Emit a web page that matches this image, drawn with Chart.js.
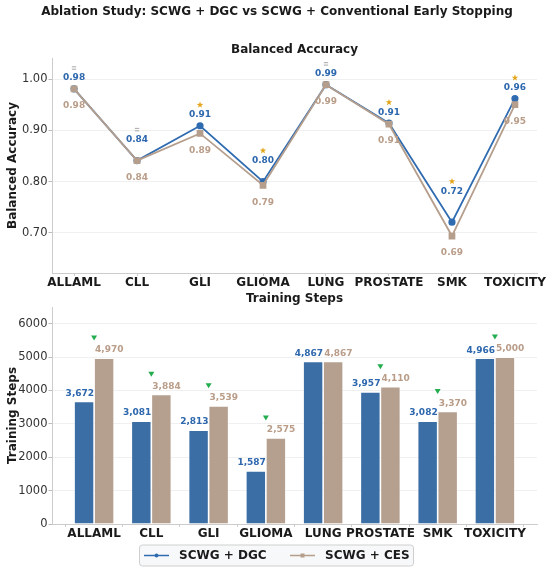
<!DOCTYPE html>
<html lang="en">
<head>
  <meta charset="UTF-8" />
  <title>Ablation Study: SCWG + DGC vs SCWG + CES</title>
  <script src="https://cdn.jsdelivr.net/npm/chart.js"></script>
  <style>
    body {
      margin: 0;
      background: #ffffff;
    }

    #figure {
      position: relative;
      width: 550px;
      height: 571px;
      background: #ffffff;
    }

    #accChart, #stepsChart {
      position: absolute;
      left: 0;
    }

    #accChart { top: 0; }
    #stepsChart { top: 290px; }
  </style>
</head>
<body>

  <div id="figure">
    <canvas id="accChart" width="550" height="290"></canvas>
    <canvas id="stepsChart" width="550" height="281"></canvas>
  </div>

  <script>
    // data
    const categories = ['ALLAML', 'CLL', 'GLI', 'GLIOMA', 'LUNG', 'PROSTATE', 'SMK', 'TOXICITY'];
    const accDGC = [0.981, 0.841, 0.909, 0.800, 0.989, 0.914, 0.721, 0.962];
    const accCES = [0.981, 0.841, 0.894, 0.793, 0.989, 0.912, 0.694, 0.950];
    const accMarks = ['=', '=', '*', '*', '=', '*', '*', '*'];
    const accTicks = [0.7, 0.8, 0.9, 1.0];
    const stepsDGC = [3672, 3081, 2813, 1587, 4867, 3957, 3082, 4966];
    const stepsCES = [4970, 3884, 3539, 2575, 4867, 4110, 3370, 5000];
    const stepMarks = ['v', 'v', 'v', 'v', '', 'v', 'v', 'v'];
    const stepTicks = [0, 1000, 2000, 3000, 4000, 5000, 6000];
    const seriesNames = ['SCWG + DGC', 'SCWG + CES'];

    const FONT = '"DejaVu Sans", sans-serif';
    const BLUE = '#2f6bb0';
    const BLUE_BAR = '#3a6ea5';
    const TAN = '#b59e8c';
    const TAN_BAR = '#b5a090';
    const BLUE_TXT = '#2d67ad';
    const TAN_TXT = '#b99d89';

    function drawMark(ctx, kind, x, y) {
      ctx.save();
      if (kind === '=') {
        ctx.strokeStyle = '#a8a8a8';
        ctx.lineWidth = 1;
        ctx.beginPath();
        ctx.moveTo(x - 2.2, y - 1.2); ctx.lineTo(x + 2.2, y - 1.2);
        ctx.moveTo(x - 2.2, y + 1.2); ctx.lineTo(x + 2.2, y + 1.2);
        ctx.stroke();
      } else if (kind === '*') {
        ctx.fillStyle = '#e3a51a';
        ctx.beginPath();
        for (let k = 0; k < 10; k++) {
          const r = k % 2 === 0 ? 3.4 : 1.4;
          const ang = -Math.PI / 2 + k * Math.PI / 5;
          const px = x + r * Math.cos(ang), py = y + r * Math.sin(ang);
          if (k === 0) ctx.moveTo(px, py); else ctx.lineTo(px, py);
        }
        ctx.closePath();
        ctx.fill();
      } else if (kind === 'v') {
        ctx.fillStyle = '#23ad4f';
        ctx.beginPath();
        ctx.moveTo(x - 3, y - 2.5);
        ctx.lineTo(x + 3, y - 2.5);
        ctx.lineTo(x, y + 2.5);
        ctx.closePath();
        ctx.fill();
      }
      ctx.restore();
    }

    function plotTitle(chart, text) {
      const { ctx, chartArea } = chart;
      ctx.save();
      ctx.font = 'bold 12px ' + FONT;
      ctx.fillStyle = '#1a1a1a';
      ctx.textAlign = 'center';
      ctx.textBaseline = 'middle';
      ctx.fillText(text, (chartArea.left + chartArea.right) / 2, chartArea.top - 8);
      ctx.restore();
    }

    // arvot, merkit ja otsikot ylempään kuvaan
    const accDecor = {
      id: 'accDecor',
      afterDatasetsDraw(chart) {
        const { ctx, scales: { x, y } } = chart;
        ctx.save();
        ctx.font = 'bold 9px ' + FONT;
        ctx.textAlign = 'center';
        ctx.textBaseline = 'middle';
        categories.forEach((name, i) => {
          const px = x.getPixelForValue(i);
          const a = accDGC[i], b = accCES[i];
          const lift = a >= 0.9 ? 0.021 : (a >= 0.75 ? 0.041 : 0.06);
          const ly = y.getPixelForValue(a + lift);
          ctx.fillStyle = BLUE_TXT;
          ctx.fillText(a.toFixed(2), px, ly);
          ctx.fillStyle = TAN_TXT;
          ctx.fillText(b.toFixed(2), px, y.getPixelForValue(b - 0.033));
          drawMark(ctx, accMarks[i], px, ly - 10);
        });
        ctx.restore();
      },
      afterDraw(chart) {
        const ctx = chart.ctx;
        ctx.save();
        ctx.font = 'bold 12px ' + FONT;
        ctx.fillStyle = '#1a1a1a';
        ctx.textAlign = 'center';
        ctx.textBaseline = 'middle';
        ctx.fillText('Ablation Study: SCWG + DGC vs SCWG + Conventional Early Stopping', 277, 12);
        ctx.restore();
        plotTitle(chart, 'Balanced Accuracy');
      }
    };

    const stepsDecor = {
      id: 'stepsDecor',
      afterDatasetsDraw(chart) {
        const { ctx, scales: { x, y } } = chart;
        ctx.save();
        ctx.font = 'bold 9px ' + FONT;
        ctx.textBaseline = 'middle';
        categories.forEach((name, i) => {
          const px = x.getPixelForValue(i);
          const a = stepsDGC[i], b = stepsCES[i];
          ctx.fillStyle = BLUE_TXT;
          ctx.textAlign = 'right';
          ctx.fillText(a.toLocaleString('en-US'), px, y.getPixelForValue(a) - 8);
          ctx.fillStyle = TAN_TXT;
          ctx.textAlign = 'left';
          ctx.fillText(b.toLocaleString('en-US'), px + 1, y.getPixelForValue(b) - 8);
          drawMark(ctx, stepMarks[i], px, y.getPixelForValue(Math.max(a, b)) - 20);
        });
        ctx.restore();
      },
      afterDraw(chart) {
        plotTitle(chart, 'Training Steps');
        // selite alareunaan
        const ctx = chart.ctx;
        const top = 255, h = 21, left = 139.5, w = 274;
        ctx.save();
        ctx.fillStyle = '#f7f8f9';
        ctx.strokeStyle = '#cfcfcf';
        ctx.lineWidth = 1;
        ctx.beginPath();
        ctx.roundRect(left, top, w, h, 3);
        ctx.fill();
        ctx.stroke();
        const cy = top + h / 2;
        const items = [
          { x: 144, color: BLUE, shape: 'circle', text: seriesNames[0] },
          { x: 290, color: TAN, shape: 'rect', text: seriesNames[1] }
        ];
        items.forEach(it => {
          ctx.strokeStyle = it.color;
          ctx.lineWidth = 1.5;
          ctx.beginPath();
          ctx.moveTo(it.x, cy);
          ctx.lineTo(it.x + 25, cy);
          ctx.stroke();
          ctx.fillStyle = it.color;
          ctx.beginPath();
          if (it.shape === 'circle') ctx.arc(it.x + 12.5, cy, 2, 0, Math.PI * 2);
          else ctx.rect(it.x + 10.5, cy - 2, 4, 4);
          ctx.fill();
          ctx.font = 'bold 12px ' + FONT;
          ctx.fillStyle = '#1a1a1a';
          ctx.textAlign = 'left';
          ctx.textBaseline = 'middle';
          ctx.fillText(it.text, it.x + 35, cy + 0.5);
        });
        ctx.restore();
      }
    };

    function yAxis(title, min, max, tickValues, fmt) {
      return {
        type: 'linear',
        min, max,
        afterFit: s => { s.width = 52; },
        afterBuildTicks: s => { s.ticks = tickValues.map(v => ({ value: v })); },
        ticks: {
          padding: 1,
          color: '#333333',
          font: { family: FONT, size: 11.5 },
          callback: fmt
        },
        grid: { color: '#f0f0f0', lineWidth: 1, tickLength: 3.5, tickColor: '#bbbbbb' },
        border: { color: '#cccccc', width: 1 },
        title: {
          display: true,
          text: title,
          color: '#1a1a1a',
          font: { family: FONT, size: 12, weight: 'bold' },
          padding: { top: 6, bottom: 0 }
        }
      };
    }

    function xAxis(min, max) {
      return {
        type: 'linear',
        min, max,
        offset: false,
        afterFit: s => { s.height = 17; },
        afterBuildTicks: s => { s.ticks = categories.map((c, i) => ({ value: i })); },
        ticks: {
          autoSkip: false,
          maxRotation: 0,
          padding: 0,
          color: '#1a1a1a',
          font: { family: FONT, size: 12, weight: 'bold' },
          callback: v => categories[v] ?? ''
        },
        grid: { color: 'rgba(0,0,0,0)', tickLength: 3, tickColor: '#cccccc' },
        border: { color: '#cccccc', width: 1 }
      };
    }

    const baseOpts = {
      responsive: false,
      animation: false,
      plugins: { legend: { display: false }, tooltip: { enabled: false } }
    };

    new Chart(document.getElementById('accChart'), {
      type: 'line',
      data: {
        datasets: [
          {
            label: seriesNames[0],
            data: accDGC.map((v, i) => ({ x: i, y: v })),
            borderColor: BLUE,
            backgroundColor: BLUE,
            borderWidth: 1.8,
            pointStyle: 'circle',
            pointRadius: 2.7,
            tension: 0,
            order: 1
          },
          {
            label: seriesNames[1],
            data: accCES.map((v, i) => ({ x: i, y: v })),
            borderColor: TAN,
            backgroundColor: TAN,
            borderWidth: 1.8,
            pointStyle: 'rect',
            pointRadius: 3.5,
            tension: 0,
            order: 0
          }
        ]
      },
      options: {
        ...baseOpts,
        layout: { padding: { top: 58, right: 13, left: 0, bottom: 0 } },
        scales: {
          x: xAxis(-0.35, 7.35),
          y: yAxis('Balanced Accuracy', 0.622, 1.041, accTicks, v => v.toFixed(2))
        }
      },
      plugins: [accDecor]
    });

    new Chart(document.getElementById('stepsChart'), {
      type: 'bar',
      data: {
        datasets: [
          {
            label: seriesNames[0],
            data: stepsDGC.map((v, i) => ({ x: i, y: v })),
            backgroundColor: BLUE_BAR,
            borderColor: 'rgba(255,255,255,0.7)',
            borderWidth: 0.8,
            categoryPercentage: 0.7,
            barPercentage: 1.0
          },
          {
            label: seriesNames[1],
            data: stepsCES.map((v, i) => ({ x: i, y: v })),
            backgroundColor: TAN_BAR,
            borderColor: 'rgba(255,255,255,0.7)',
            borderWidth: 0.8,
            categoryPercentage: 0.7,
            barPercentage: 1.0
          }
        ]
      },
      options: {
        ...baseOpts,
        layout: { padding: { top: 17, right: 13, left: 0, bottom: 30 } },
        scales: {
          x: xAxis(-0.735, 7.735),
          y: yAxis('Training Steps', 0, 6500, stepTicks, v => String(v))
        }
      },
      plugins: [stepsDecor]
    });
  </script>
</body>
</html>
